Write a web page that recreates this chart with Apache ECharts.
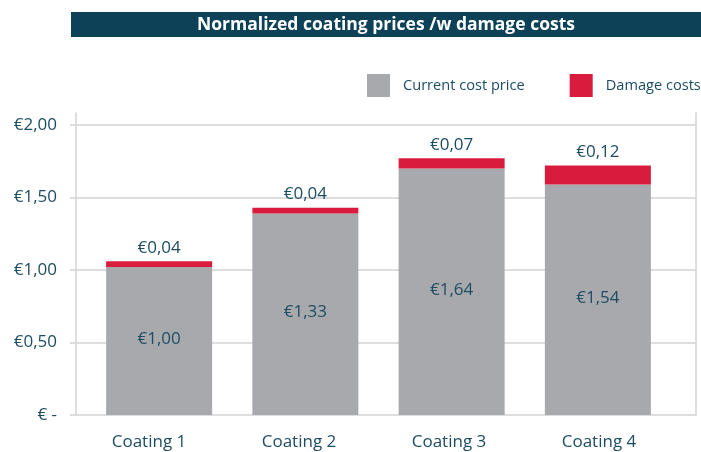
<!DOCTYPE html>
<html>
<head>
<meta charset="utf-8">
<script src="https://cdn.jsdelivr.net/npm/echarts@6/dist/echarts.min.js"></script>
<style>
  html, body { margin: 0; padding: 0; background: #fff; }
  #chart { width: 701px; height: 452px; }
</style>
</head>
<body>
<div id="chart"></div>
<script>
// 数据
const categories = ["Coating 1", "Coating 2", "Coating 3", "Coating 4"];
// bar heights as drawn in the picture
const costPrice = [1.02, 1.39, 1.70, 1.59];
const damageCosts = [0.04, 0.04, 0.07, 0.13];
// printed labels
const costLabels = ["€1,00", "€1,33", "€1,64", "€1,54"];
const damageLabels = ["€0,04", "€0,04", "€0,07", "€0,12"];
const yTicks = { 0: "€ -", 0.5: "€0,50", 1: "€1,00", 1.5: "€1,50", 2: "€2,00" };

const textColor = "#1d4c63";
const lineColor = "#d3d3d7";
const font = "Open Sans";

const chart = echarts.init(document.getElementById("chart"), null, { renderer: "canvas" });

const option = {
    animation: false,
    textStyle: { fontFamily: font },
    graphic: [
        {
            type: "rect",
            shape: { x: 71, y: 12, width: 630, height: 25 },
            style: { fill: "#0c4157" }
        },
        {
            type: "text",
            x: 386,
            y: 25,
            style: {
                text: "Normalized coating prices /w damage costs",
                fill: "#fff",
                font: "bold 17.5px 'Open Sans'",
                align: "center",
                verticalAlign: "middle"
            }
        }
    ],
    legend: {
        left: 367,
        top: 74,
        width: 334,
        padding: 0,
        itemWidth: 23,
        itemHeight: 23,
        itemGap: 45,
        icon: "rect",
        textStyle: { color: textColor, fontSize: 14.6, fontFamily: font, padding: [0, 0, 0, 8] },
        data: ["Current cost price", "Damage costs"]
    },
    grid: [
        // 网格线
        { left: 70, right: 5, top: 125, bottom: 37 },
        // 柱子
        { left: 86, right: 30, top: 125, bottom: 37 },
        // 左右竖线
        { left: 76, right: 5, top: 113, bottom: 37 },
        // 类目标签
        { left: 74, right: 27, top: 125, bottom: 37 }
    ],
    xAxis: [
        { gridIndex: 0, type: "value", show: false },
        { gridIndex: 1, type: "category", data: categories, show: false },
        { gridIndex: 2, type: "value", show: false },
        {
            gridIndex: 3,
            type: "category",
            data: categories,
            axisLine: { show: false },
            axisTick: { show: false },
            axisLabel: { color: textColor, fontSize: 17, margin: 19, fontFamily: font }
        }
    ],
    yAxis: [
        {
            gridIndex: 0,
            type: "value",
            min: 0,
            max: 2,
            interval: 0.5,
            axisLine: { show: false },
            axisTick: { show: false },
            splitLine: { lineStyle: { color: lineColor, width: 1.5 } },
            axisLabel: {
                color: textColor,
                fontSize: 17,
                margin: 13,
                fontFamily: font,
                formatter: (v) => yTicks[v] || ""
            }
        },
        { gridIndex: 1, type: "value", min: 0, max: 2, show: false },
        {
            gridIndex: 2,
            type: "value",
            position: "left",
            axisLine: { show: true, lineStyle: { color: lineColor, width: 1.5 } },
            axisTick: { show: false },
            axisLabel: { show: false },
            splitLine: { show: false }
        },
        {
            gridIndex: 2,
            type: "value",
            position: "right",
            axisLine: { show: true, lineStyle: { color: lineColor, width: 1.5 } },
            axisTick: { show: false },
            axisLabel: { show: false },
            splitLine: { show: false }
        },
        { gridIndex: 3, type: "value", min: 0, max: 2, show: false }
    ],
    series: [
        {
            name: "Current cost price",
            type: "bar",
            stack: "total",
            xAxisIndex: 1,
            yAxisIndex: 1,
            barWidth: 106,
            itemStyle: { color: "#a7a9ac" },
            label: {
                show: true,
                position: "inside",
                offset: [0, -2],
                color: textColor,
                fontSize: 17,
                fontFamily: font,
                formatter: (p) => costLabels[p.dataIndex]
            },
            data: costPrice
        },
        {
            name: "Damage costs",
            type: "bar",
            stack: "total",
            xAxisIndex: 1,
            yAxisIndex: 1,
            barWidth: 106,
            itemStyle: { color: "#d91c3d" },
            label: {
                show: true,
                position: "top",
                distance: 5,
                color: textColor,
                fontSize: 17,
                fontFamily: font,
                formatter: (p) => damageLabels[p.dataIndex]
            },
            data: damageCosts
        }
    ]
};

chart.setOption(option);
</script>
</body>
</html>
